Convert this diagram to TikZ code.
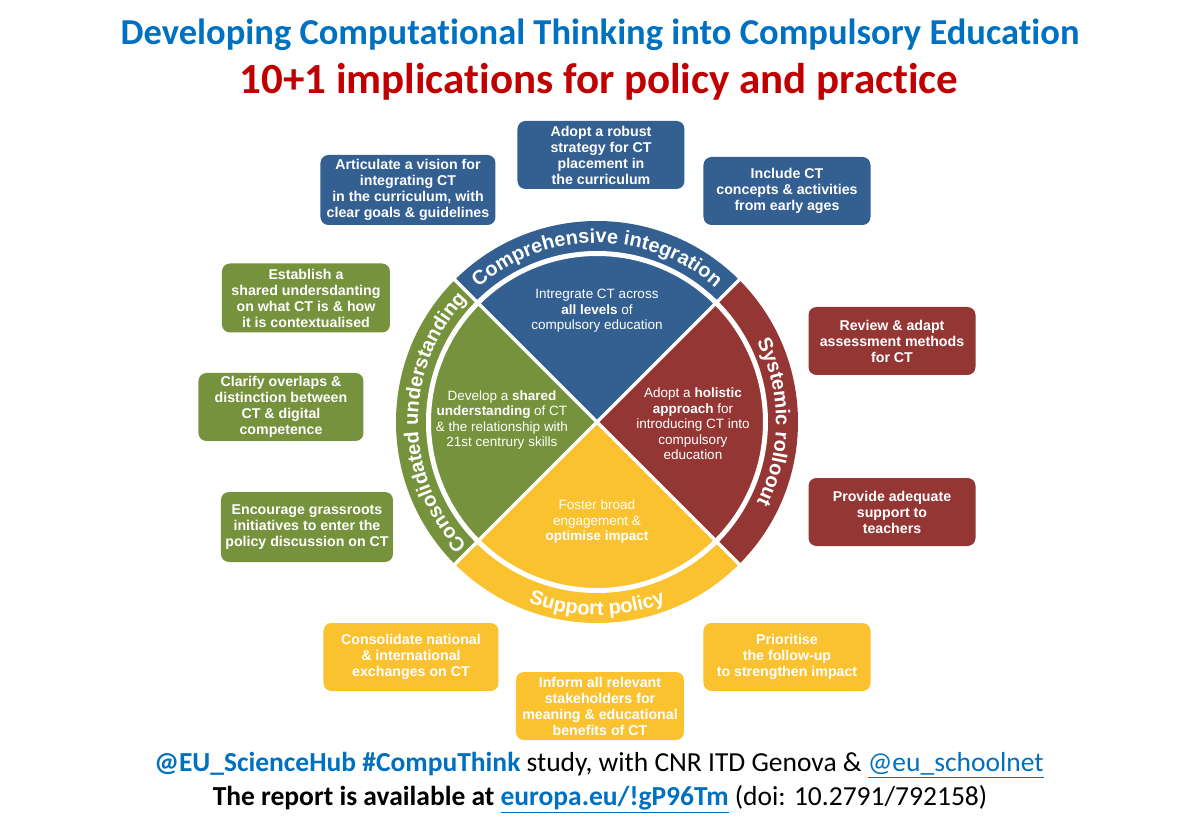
\documentclass[tikz,border=0pt]{standalone}
\usepackage{fontspec}
\usepackage{tikz,xcolor}
\usetikzlibrary{decorations.text}
\setmainfont{Carlito}[Ligatures=NoCommon]
\newfontfamily\arialfont{Liberation Sans}
\definecolor{titleblue}{HTML}{0070C0}
\definecolor{titlered}{HTML}{C00000}
\definecolor{ctblue}{HTML}{335F91}
\definecolor{ctgreen}{HTML}{76923C}
\definecolor{ctred}{HTML}{943634}
\definecolor{ctyellow}{HTML}{F9C22E}

\begin{document}
\begin{tikzpicture}[x=1pt,y=1pt,
    ctbox/.style={fill=#1, rounded corners=8pt, text=white, align=center, inner sep=1pt,
        font=\arialfont\bfseries\fontsize{14.2}{16}\selectfont, minimum width=167pt, minimum height=68pt},
    wedgetext/.style={text=white, align=center, font=\arialfont\fontsize{13.5}{15.5}\selectfont},
    ringlabel/.style={decorate, decoration={text along path, text align=center, text color=white,
        text={|\arialfont\bfseries\fontsize{20}{20}\selectfont|#1}}}]
    \useasboundingbox (-597,-408) rectangle (603,422);

    \node[font=\bfseries\fontsize{36.5}{36.5}\selectfont, text=titleblue] (title) at (3,387) {Developing Computational Thinking into Compulsory Education};
    \node[font=\bfseries\fontsize{43}{43}\selectfont, text=titlered] (subtitle) at (2,340) {10+1 implications for policy and practice};

    \fill[ctblue] (0,0) -- (45:201) arc[start angle=45, end angle=135, radius=201] -- cycle;
    \fill[ctgreen] (0,0) -- (135:201) arc[start angle=135, end angle=225, radius=201] -- cycle;
    \fill[ctyellow] (0,0) -- (225:201) arc[start angle=225, end angle=315, radius=201] -- cycle;
    \fill[ctred] (0,0) -- (-45:201) arc[start angle=-45, end angle=45, radius=201] -- cycle;
    \draw[white, line width=5pt] (0,0) circle[radius=168.5];
    \foreach \a in {45,135,225,315}
        \draw[white, line width=3.5pt] (0,0) -- (\a:205);

    \path[ringlabel=Comprehensive integration] (135:179) arc[start angle=135, end angle=45, radius=179];
    \path[ringlabel=Systemic rolloout] (45:179) arc[start angle=45, end angle=-45, radius=179];
    \path[ringlabel=Consolidated understanding] (225:179) arc[start angle=225, end angle=135, radius=179];
    \path[ringlabel=Support policy] (225:193) arc[start angle=225, end angle=315, radius=193];

    \node[wedgetext] (levels) at (0,111) {Intregrate CT across\\\textbf{all levels} of\\compulsory education};
    \node[wedgetext] (understanding) at (-95,2) {Develop a \textbf{shared}\\\textbf{understanding} of CT\\\& the relationship with\\21st centrury skills};
    \node[wedgetext] (holistic) at (96,-2) {Adopt a \textbf{holistic}\\\textbf{approach} for\\introducing CT into\\compulsory\\education};
    \node[wedgetext] (engagement) at (0,-100) {Foster broad\\engagement \&\\\textbf{optimise impact}};

    \node[ctbox=ctblue, minimum width=175pt, minimum height=70pt] (vision) at (-189,232) {Articulate a vision for\\integrating CT\\in the curriculum, with\\clear goals \& guidelines};
    \node[ctbox=ctblue] (strategy) at (4,267) {Adopt a robust\\strategy for CT\\placement in\\the curriculum};
    \node[ctbox=ctblue] (early) at (190,231) {Include CT\\concepts \& activities\\from early ages};

    \node[ctbox=ctgreen, minimum width=168pt, minimum height=69pt] (shared) at (-291,124) {Establish a\\shared undersdanting\\on what CT is \& how\\it is contextualised};
    \node[ctbox=ctgreen, minimum width=165pt] (overlaps) at (-316,15) {Clarify overlaps \&\\distinction between\\CT \& digital\\competence};
    \node[ctbox=ctgreen, minimum width=172pt, minimum height=70pt] (grassroots) at (-290,-105) {Encourage grassroots\\initiatives to enter the\\policy discussion on CT};

    \node[ctbox=ctred] (assessment) at (295,81) {Review \& adapt\\assessment methods\\for CT};
    \node[ctbox=ctred] (teachers) at (295,-90) {Provide adequate\\support to\\teachers};

    \node[ctbox=ctyellow, minimum width=175pt] (exchanges) at (-186,-235) {Consolidate national\\\& international\\exchanges on CT};
    \node[ctbox=ctyellow, minimum width=168pt] (stakeholders) at (3,-284) {Inform all relevant\\stakeholders for\\meaning \& educational\\benefits of CT};
    \node[ctbox=ctyellow] (followup) at (190,-235) {Prioritise\\the follow-up\\to strengthen impact};

    \node[font=\fontsize{27.5}{27.5}\selectfont] (credits) at (2,-343) {\textcolor{titleblue}{\textbf{@EU\_ScienceHub \#CompuThink}} study, with CNR ITD Genova \& \textcolor{titleblue}{\underline{@eu\_schoolnet}}};
    \node[font=\fontsize{27.5}{27.5}\selectfont] (report) at (3,-377) {\textbf{The report is available at \textcolor{titleblue}{\underline{europa.eu/!gP96Tm}}} (doi: 10.2791/792158)};
\end{tikzpicture}
\end{document}
